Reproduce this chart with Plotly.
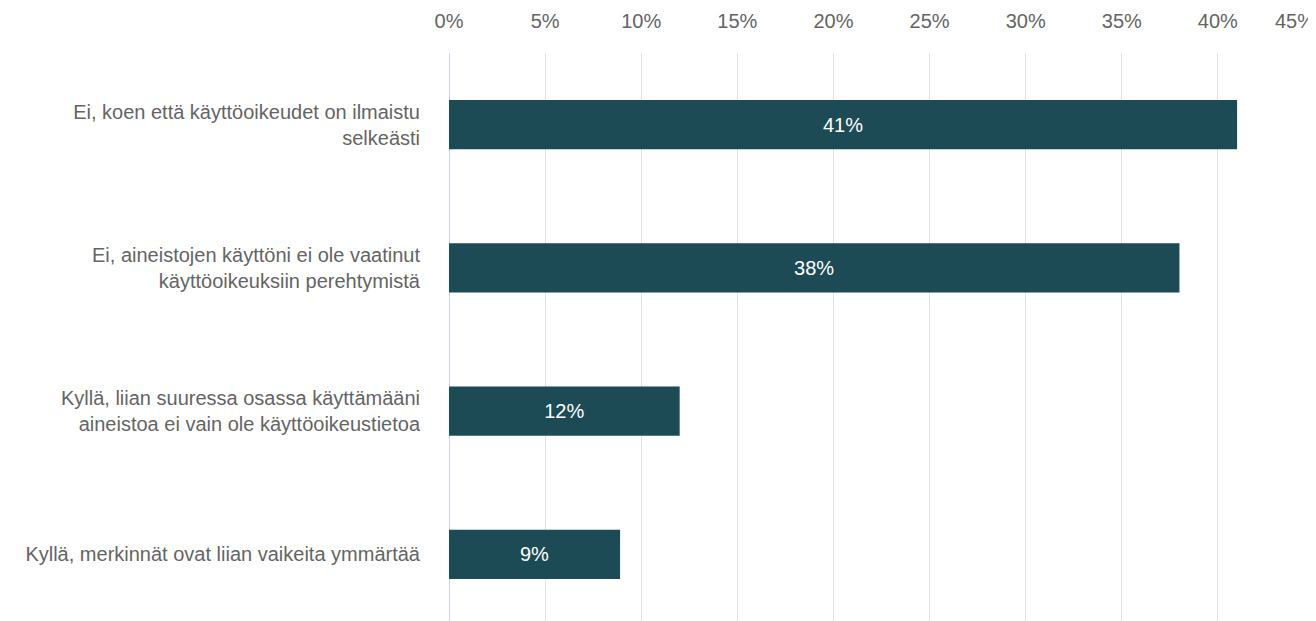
import plotly.graph_objects as go

categories = [
    "Ei, koen että käyttöoikeudet on ilmaistu<br>selkeästi",
    "Ei, aineistojen käyttöni ei ole vaatinut<br>käyttöoikeuksiin perehtymistä",
    "Kyllä, liian suuressa osassa käyttämääni<br>aineistoa ei vain ole käyttöoikeustietoa",
    "Kyllä, merkinnät ovat liian vaikeita ymmärtää",
]
values = [41.0, 38.0, 12.0, 8.9]
value_labels = ["41%", "38%", "12%", "9%"]
tick_vals = [0, 5, 10, 15, 20, 25, 30, 35, 40]
tick_text = ["0%", "5%", "10%", "15%", "20%", "25%", "30%", "35%", "40%"]
last_tick_val = 45
last_tick_text = "45%"

FONT = "Liberation Sans, Arial, Helvetica"
GREY = "#646464"

fig = go.Figure(go.Bar(
    y=categories,
    x=values,
    orientation="h",
    marker=dict(color="#1d4b55", line=dict(width=0)),
    text=value_labels,
    textposition="inside",
    insidetextanchor="middle",
    textfont=dict(color="white", size=20, family=FONT),
    hoverinfo="skip",
))

# page body has an 8px margin, so the figure is offset by (8, 8)
fig.update_layout(
    width=1308,
    height=618,
    margin=dict(l=441, r=2, t=45, b=0),
    paper_bgcolor="white",
    plot_bgcolor="white",
    bargap=0.655,
    showlegend=False,
    font=dict(family=FONT, size=20, color=GREY),
)

fig.update_xaxes(
    side="top",
    range=[0, 45],
    tickvals=tick_vals,
    ticktext=tick_text,
    showgrid=True,
    gridcolor="#e3e3e3",
    gridwidth=1,
    zeroline=True,
    zerolinecolor="#ccd2f0",
    zerolinewidth=1,
    showline=False,
    ticks="",
    ticklabelstandoff=20,
    tickfont=dict(size=20, color=GREY, family=FONT),
    fixedrange=True,
)

fig.update_yaxes(
    categoryorder="array",
    categoryarray=categories[::-1],
    showgrid=False,
    zeroline=False,
    showline=False,
    ticks="",
    ticklabelstandoff=28,
    tickfont=dict(size=20, color=GREY, family=FONT),
    fixedrange=True,
)

fig.add_annotation(
    x=last_tick_val, xref="x",
    y=1, yref="paper",
    yshift=19,
    xshift=3,
    text=last_tick_text,
    showarrow=False,
    xanchor="right",
    yanchor="bottom",
    font=dict(size=20, color=GREY, family=FONT),
)

fig.write_html("out.html")
